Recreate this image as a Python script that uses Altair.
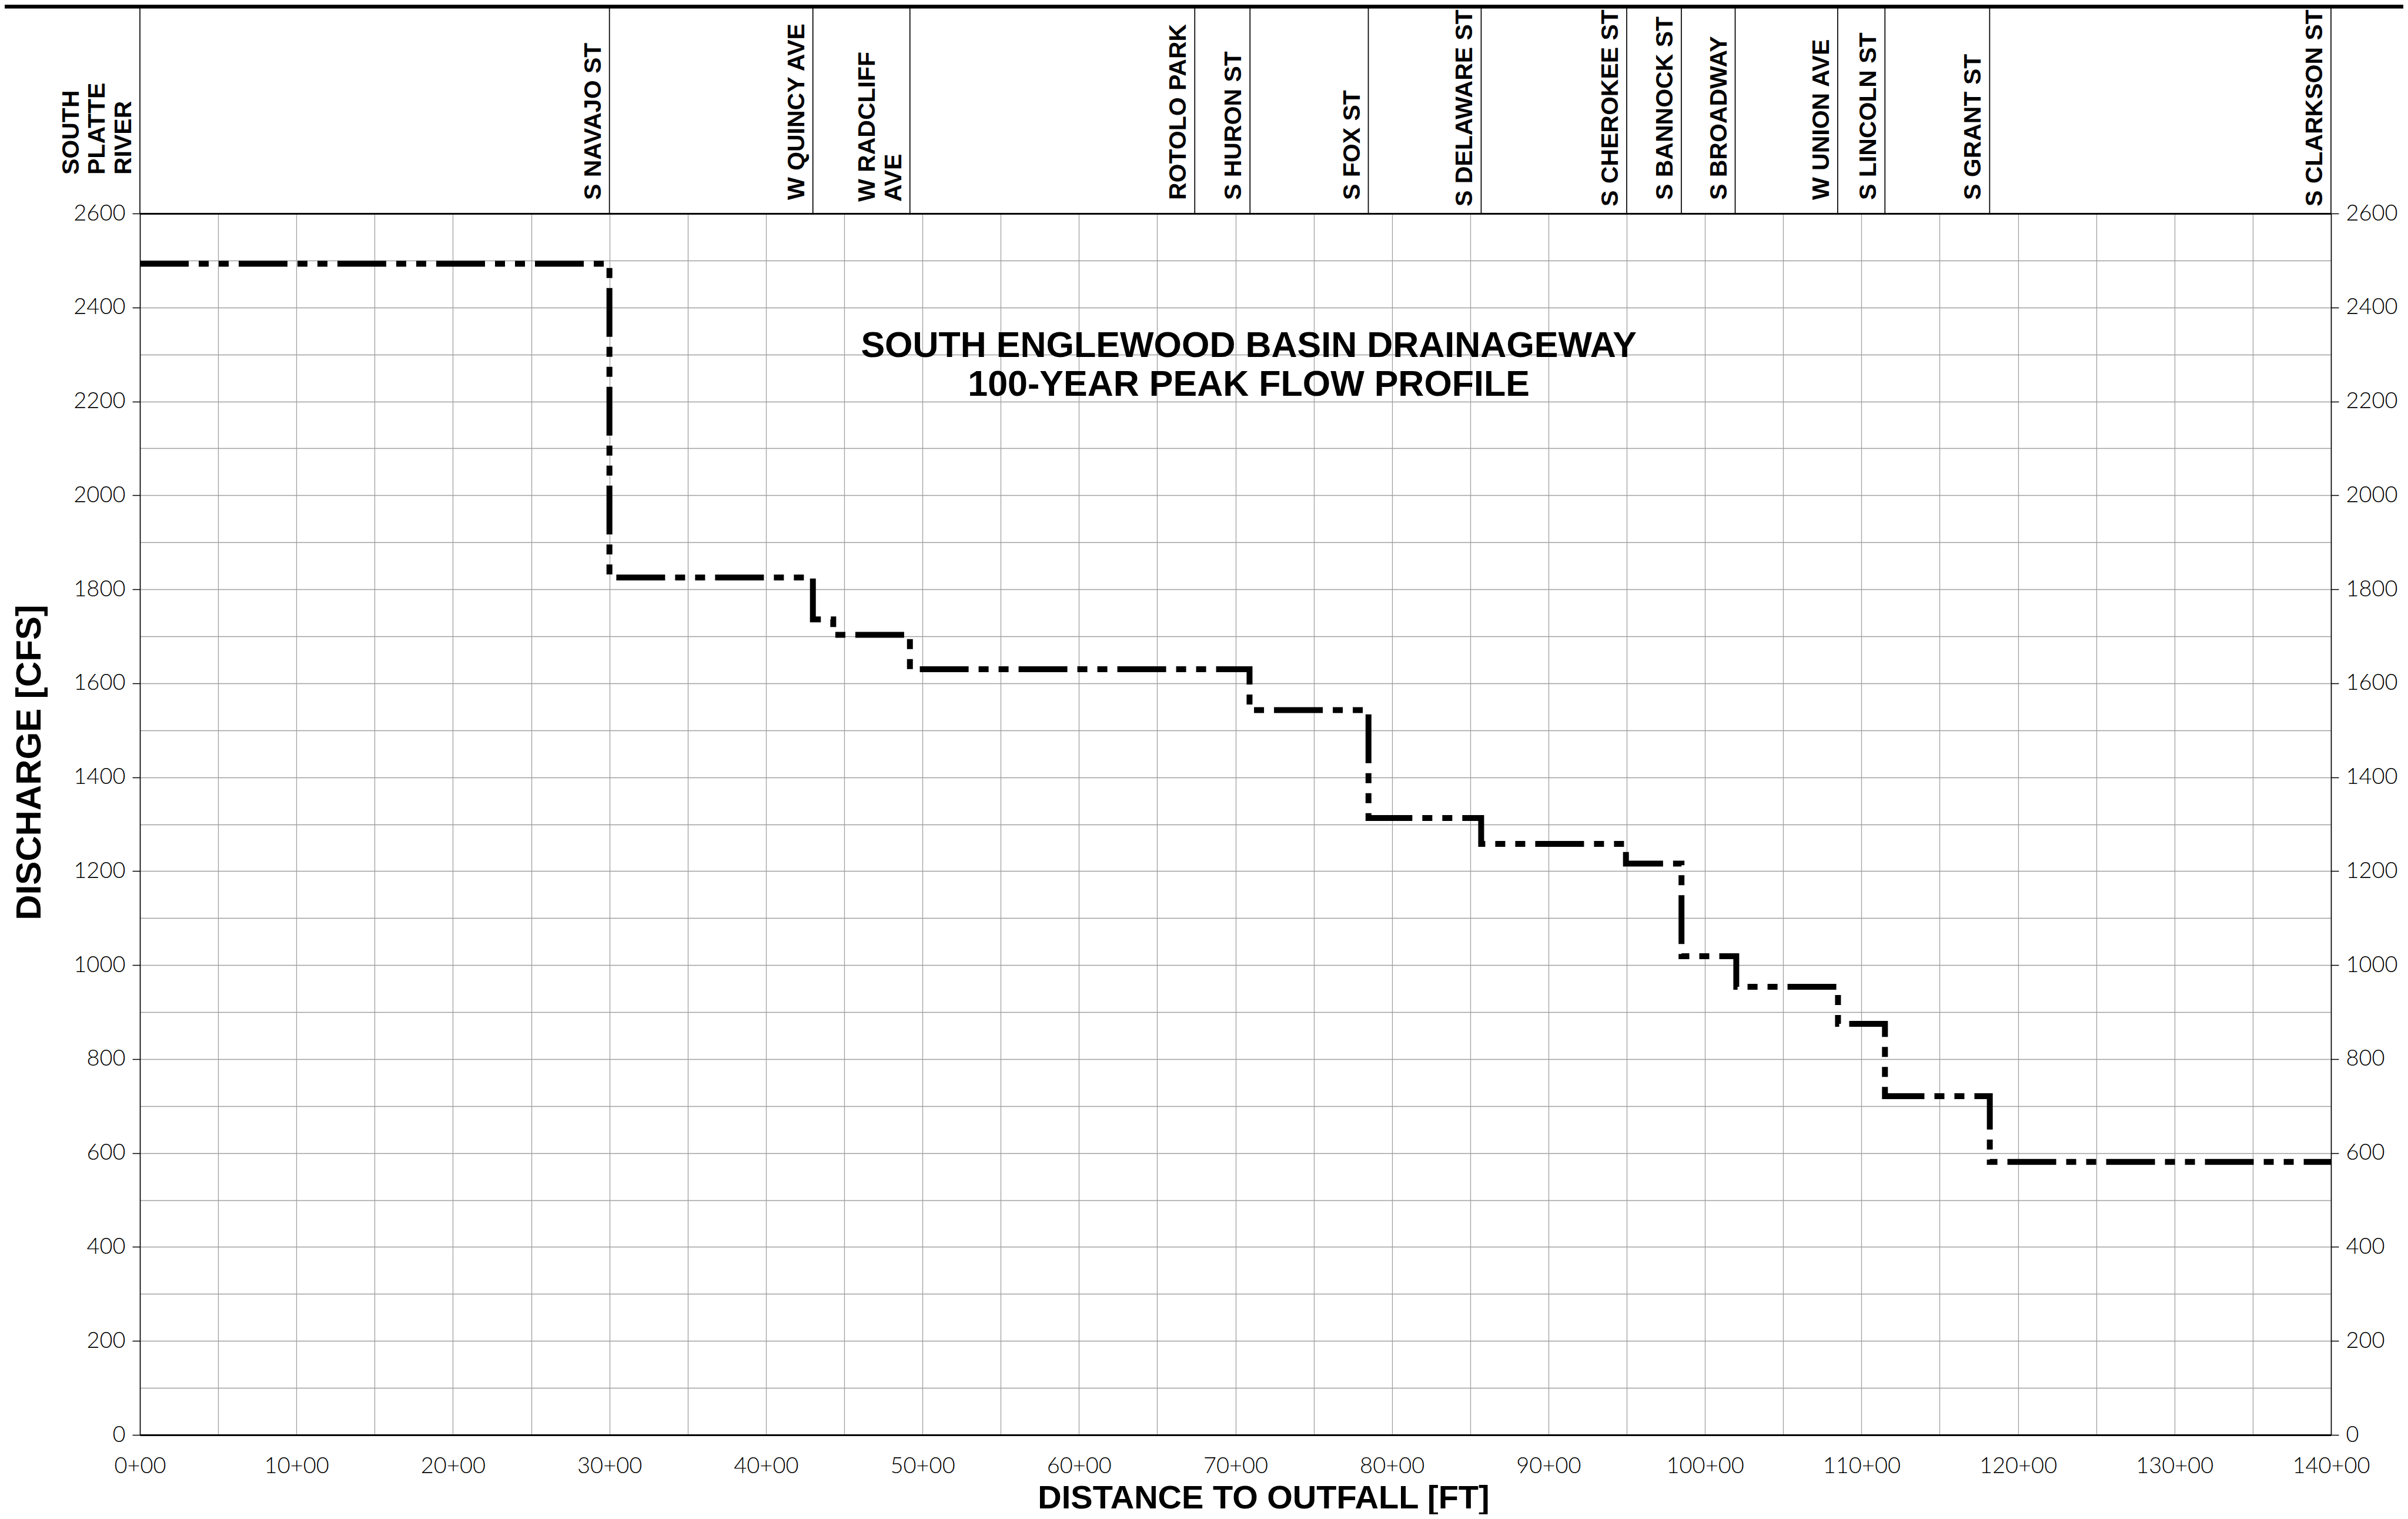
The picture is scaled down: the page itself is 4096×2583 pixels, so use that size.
import altair as alt
import pandas as pd

# ---------------- data ----------------
# 100-year peak flow profile: breakpoints (distance to outfall, stations in 100 ft) and discharge (cfs)
step_x = [0, 30.0, 43.0, 44.3, 49.2, 70.9, 78.5, 85.7, 94.95, 98.5, 102.0, 108.5, 111.5, 118.2, 140]
step_q = [2493, 1825, 1736, 1703, 1630, 1543, 1313, 1258, 1216, 1019, 954, 875, 721, 581, 581]

# street / landmark crossings shown in the header band
station_x = [0, 30.0, 43.0, 49.2, 67.4, 70.93, 78.49, 85.7, 95.0, 98.49, 101.93, 108.48, 111.5, 118.19, 140]
station_labels = [
    "SOUTH\nPLATTE\nRIVER", "S NAVAJO ST", "W QUINCY AVE", "W RADCLIFF\nAVE", "ROTOLO PARK",
    "S HURON ST", "S FOX ST", "S DELAWARE ST", "S CHEROKEE ST", "S BANNOCK ST",
    "S BROADWAY", "W UNION AVE", "S LINCOLN ST", "S GRANT ST", "S CLARKSON ST",
]

# axis tick values
x_ticks = list(range(0, 145, 5))
y_grid = list(range(0, 2700, 100))
y_labels = list(range(0, 2700, 200))

title_lines = ["SOUTH ENGLEWOOD BASIN DRAINAGEWAY", "100-YEAR PEAK FLOW PROFILE"]
title_x = 70.85
title_q = 2294.6

# ---------------- styling ----------------
BOLD = "Liberation Sans, Arial, Helvetica, sans-serif"
THIN = "Lato, Roboto, sans-serif"
GRID = "#a0a0a0"

profile = pd.DataFrame({"dist": step_x, "q": step_q})
stations = pd.DataFrame({"x": station_x, "label": station_labels})
one = pd.DataFrame({"k": [0]})

xscale = alt.Scale(domain=[0, 140], nice=False, zero=False)
yscale = alt.Scale(domain=[0, 2600], nice=False, zero=False)

bottom_axis = alt.Axis(
    orient="bottom", values=x_ticks,
    labelExpr="datum.value % 10 === 0 ? datum.value + '+00' : ''",
    grid=True, gridColor=GRID, gridWidth=1.3,
    ticks=False, tickSize=0,
    domain=True, domainColor="black", domainWidth=3,
    labelFont=THIN, labelFontWeight=300, labelFontSize=38, labelColor="black",
    labelPadding=34, labelOverlap=False, labelFlush=False, labelBound=False,
    title="DISTANCE TO OUTFALL [FT]", titleFont=BOLD, titleFontWeight="bold",
    titleFontSize=56, titleColor="black", titleAngle=0, titleAlign="center",
    titleBaseline="alphabetic", titleX=1911, titleY=124,
)

left_axis = alt.Axis(
    orient="left", values=y_grid, format="d",
    labelExpr="datum.value % 200 === 0 ? datum.label : ''",
    grid=True, gridColor=GRID, gridWidth=1.3,
    ticks=True, tickSize=13, tickWidth=1.5, tickColor="black",
    tickOpacity={"condition": {"test": "datum.value % 200 !== 0", "value": 0}, "value": 1},
    domain=True, domainColor="black", domainWidth=1.6,
    labelFont=THIN, labelFontWeight=300, labelFontSize=38, labelColor="black",
    labelPadding=12, labelOverlap=False, labelFlush=False, labelBound=False,
    title="DISCHARGE [CFS]", titleFont=BOLD, titleFontWeight="bold",
    titleFontSize=60, titleColor="black", titleAngle=270, titleAlign="center",
    titleBaseline="alphabetic", titleX=-170, titleY=933,
)

right_axis = alt.Axis(
    orient="right", values=y_labels, format="d", grid=False,
    ticks=True, tickSize=13, tickWidth=1.5, tickColor="black",
    domain=True, domainColor="black", domainWidth=1.6,
    labelFont=THIN, labelFontWeight=300, labelFontSize=38, labelColor="black",
    labelPadding=12, labelOverlap=False, labelFlush=False, labelBound=False,
    title=None,
)

top_axis = alt.Axis(
    orient="top", grid=False, ticks=False, labels=False,
    domain=True, domainColor="black", domainWidth=3, title=None,
)

# main dash-dot-dot step profile
line = alt.Chart(profile).mark_line(
    interpolate="step-after", color="black", strokeWidth=10,
    strokeDash=[83, 17, 17, 17, 17, 17], strokeCap="butt", strokeJoin="miter",
).encode(
    x=alt.X("dist:Q", scale=xscale, axis=bottom_axis),
    y=alt.Y("q:Q", scale=yscale, axis=left_axis),
)

# invisible copy carrying the right and top axes (frame)
frame = alt.Chart(profile).mark_line(strokeOpacity=0).encode(
    x=alt.X("dist:Q", scale=xscale, axis=top_axis),
    y=alt.Y("q:Q", scale=yscale, axis=right_axis),
)

# header separators
seps = alt.Chart(stations).mark_rule(color="black", strokeWidth=1.7).encode(
    x=alt.X("x:Q", scale=xscale, axis=None),
    y=alt.value(-349),
    y2=alt.value(0),
)

# thick bar at the very top
topbar = alt.Chart(one).mark_rule(color="black", strokeWidth=9).encode(
    x=alt.value(-240), x2=alt.value(3870), y=alt.value(-353),
)

hdr = alt.Chart(stations).transform_calculate(
    nl="length(split(datum.label, '\\n'))"
).transform_calculate(
    hy="datum.nl == 3 ? -66 : (datum.nl == 2 ? -20 : (length(datum.label) >= 13 ? -12 : -23))"
)


def hdr_layer(n):
    return hdr.transform_filter(f"datum.nl == {n}").mark_text(
        angle=270, align="left", baseline="alphabetic",
        dy=-(15 + (n - 1) * 44.6), lineBreak="\n", lineHeight=44.6,
        font=BOLD, fontWeight="bold", fontSize=41, color="black",
    ).encode(
        x=alt.X("x:Q", scale=xscale, axis=None),
        y=alt.Y("hy:Q", scale=None, axis=None),
        text=alt.Text("label:N"),
    )


title = alt.Chart(one).mark_text(
    text=title_lines, align="center", baseline="alphabetic", lineHeight=66,
    font=BOLD, fontWeight="bold", fontSize=61, color="black",
).encode(
    x=alt.XDatum(datum=title_x, scale=xscale, axis=None),
    y=alt.YDatum(datum=title_q, scale=yscale, axis=None),
)

chart = alt.layer(
    line, frame, seps, topbar, hdr_layer(1), hdr_layer(2), hdr_layer(3), title
).resolve_axis(
    x="independent", y="independent"
).properties(
    width=3727, height=2077,
    autosize=alt.AutoSizeParams(type="none"),
    padding={"left": 230, "top": 355, "right": 123, "bottom": 135},
).configure_view(strokeWidth=0)

chart.save("out.html", embed_options={"renderer": "svg", "actions": False})
